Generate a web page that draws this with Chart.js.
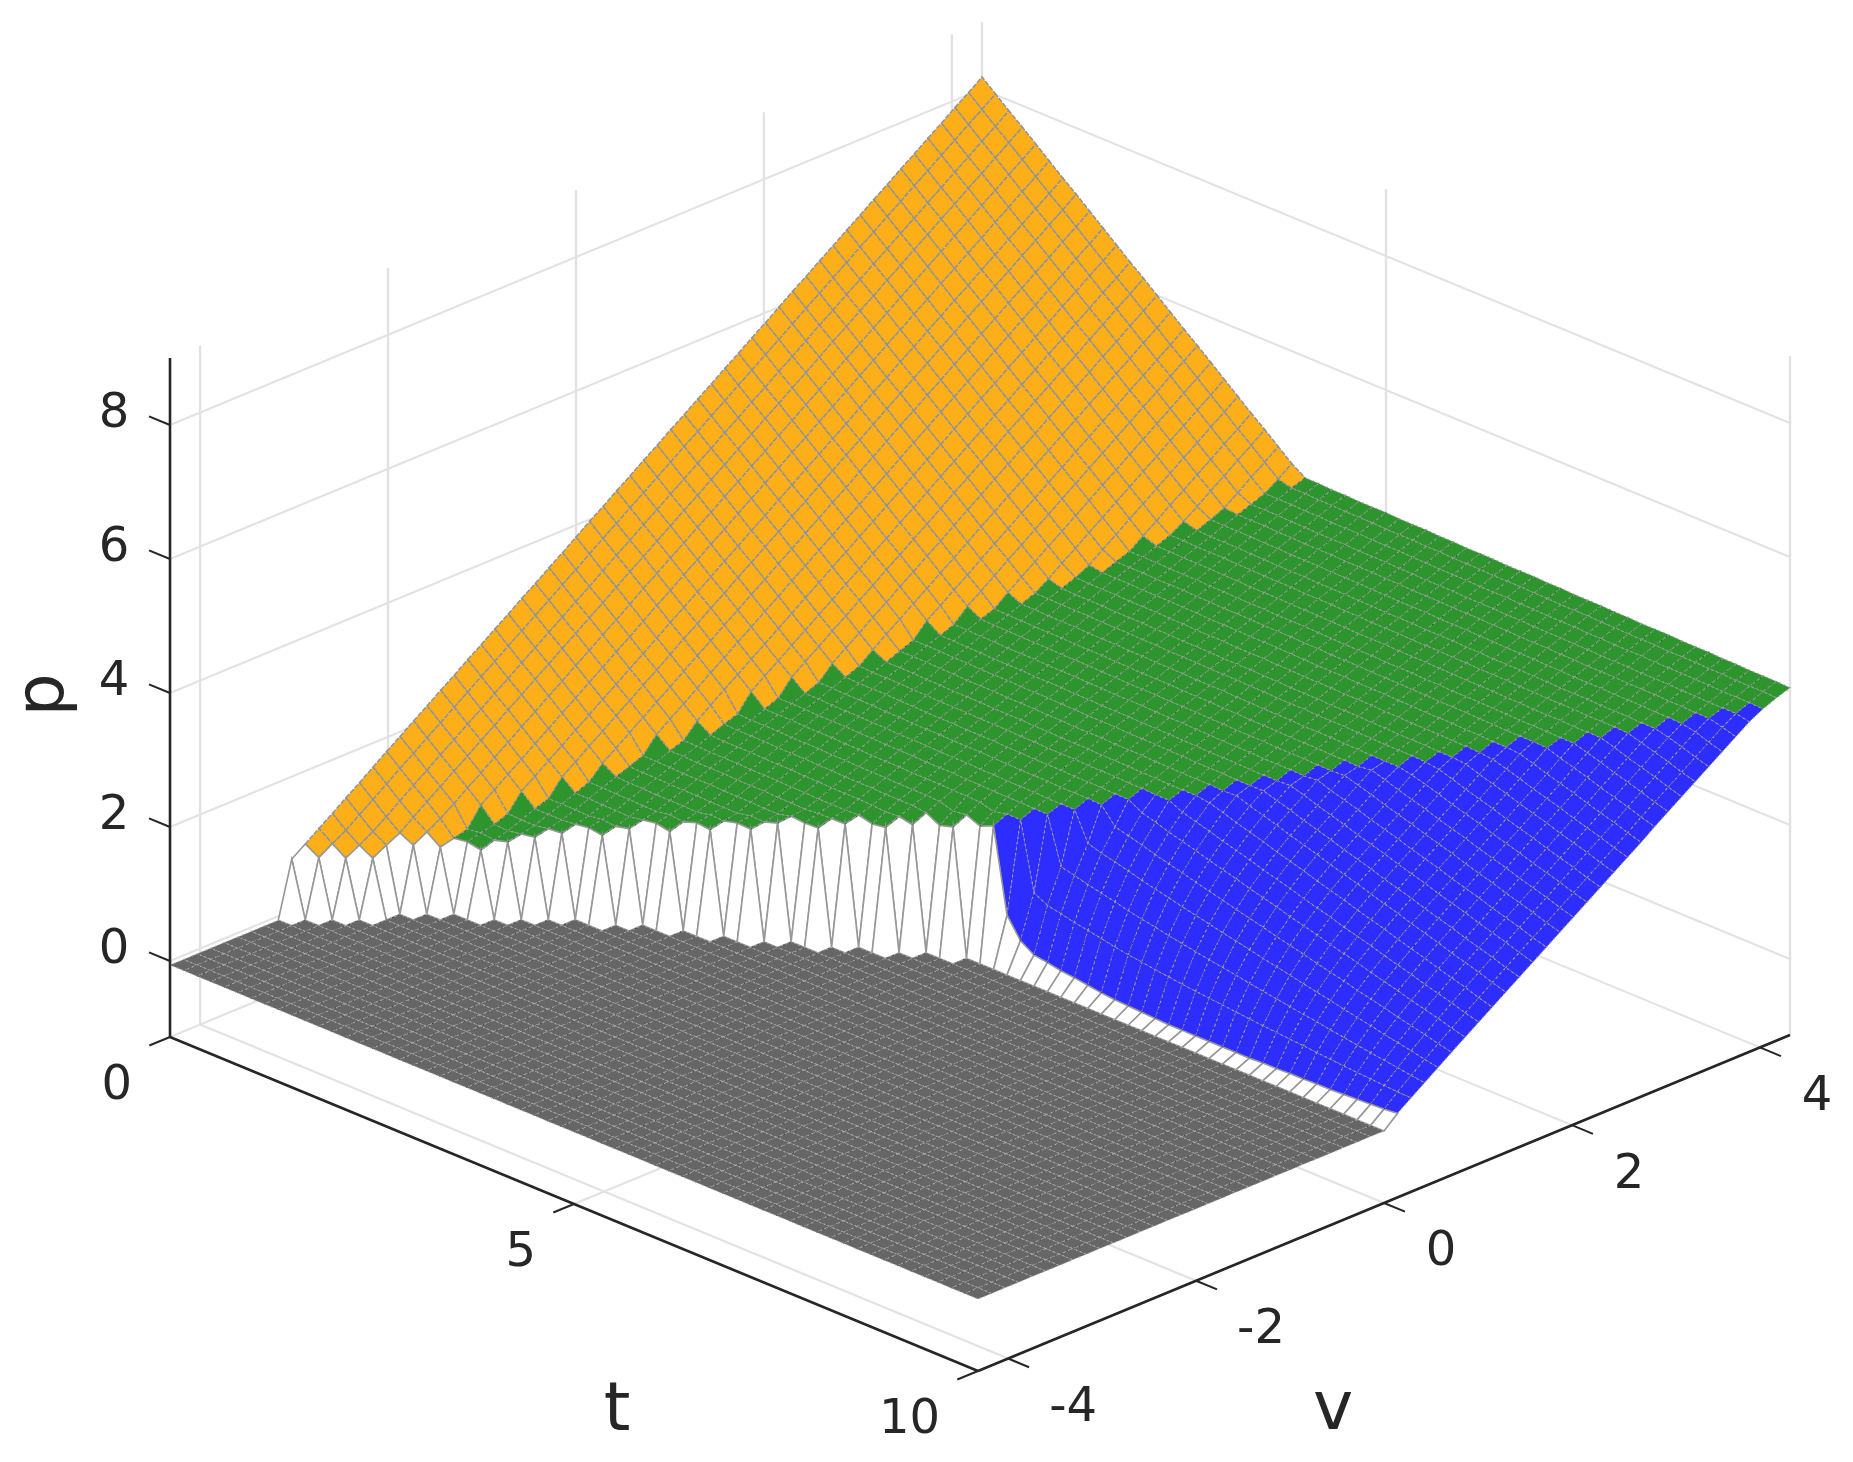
<!DOCTYPE html>
<html>
<head>
<meta charset="utf-8">
<title>p(t, v)</title>
<script src="https://cdn.jsdelivr.net/npm/chart.js@4"></script>
<style>
  html, body { margin: 0; background: #fff; }
  canvas { display: block; }
</style>
</head>
<body>
<canvas id="chart" width="1853" height="1462"></canvas>
<script>
// axis ticks
const pTicks = [0, 2, 4, 6, 8];
const tTicks = [0, 5, 10];
const vTicks = [-4, -2, 0, 2, 4];

// surface grid
const tGrid = [0,0.167,0.333,0.5,0.667,0.833,1,1.167,1.333,1.5,1.667,1.833,2,2.167,2.333,2.5,2.667,2.833,3,3.167,3.333,3.5,3.667,3.833,4,4.167,4.333,4.5,4.667,4.833,5,5.167,5.333,5.5,5.667,5.833,6,6.167,6.333,6.5,6.667,6.833,7,7.167,7.333,7.5,7.667,7.833,8,8.167,8.333,8.5,8.667,8.833,9,9.167,9.333,9.5,9.667,9.833,10];
const vGrid = [-4.32,-4.176,-4.032,-3.888,-3.744,-3.6,-3.456,-3.312,-3.168,-3.024,-2.88,-2.736,-2.592,-2.448,-2.304,-2.16,-2.016,-1.872,-1.728,-1.584,-1.44,-1.296,-1.152,-1.008,-0.864,-0.72,-0.576,-0.432,-0.288,-0.144,0,0.144,0.288,0.432,0.576,0.72,0.864,1.008,1.152,1.296,1.44,1.584,1.728,1.872,2.016,2.16,2.304,2.448,2.592,2.736,2.88,3.024,3.168,3.312,3.456,3.6,3.744,3.888,4.032,4.176,4.32];

// where each t row changes sheet (index into vGrid)
const grayEnd = [8,9,10,11,13,14,15,15,16,17,18,19,19,20,21,21,22,22,23,23,24,25,25,26,27,27,28,29,29,30,30,30,30,30,30,30,30,30,30,30,30,30,30,30,30,30,30,30,30,30,30,30,30,30,30,30,30,30,30,30,30];
const orangeStart = [9,10,11,12,14,18,20,22,24,27,29,32,34,36,38,41,43,45,47,49,52,54,56,59,61];
const orangeLowEnd = [0,0,0,0,0,15];
const blueEnd = [0,0,0,0,0,0,0,0,0,0,0,0,0,0,0,0,0,0,0,0,0,0,0,0,0,0,0,0,0,0,0,32,33,34,35,36,37,37,38,39,40,41,42,43,44,45,45,46,47,48,49,50,50,51,52,53,54,55,56,57,58];

const grayLevel = -0.06;

// orange sheet, read along the t = 0 edge and down the top right edge
const orangeByV = [-0.54,-0.39,-0.25,-0.10,0.04,0.19,0.33,0.48,0.62,0.77,0.91,1.06,1.20,1.35,1.49,1.64,1.79,1.93,2.08,2.22,2.37,2.51,2.66,2.80,2.95,3.09,3.24,3.38,3.53,3.67,3.82,3.97,4.11,4.26,4.40,4.55,4.69,4.84,4.98,5.13,5.27,5.42,5.56,5.71,5.85,6.00,6.15,6.29,6.44,6.58,6.73,6.87,7.02,7.16,7.31,7.45,7.60,7.74,7.89,8.03,8.18];
const orangeDrop = [0,0.17,0.34,0.50,0.67,0.84,1.01,1.17,1.34,1.51,1.68,1.85,2.01,2.18,2.35,2.52,2.68,2.85,3.02,3.19,3.36,3.52,3.69,3.86,4.03];

// green sheet
const greenByV = [-0.33,-0.25,-0.18,-0.10,-0.02,0.05,0.13,0.21,0.29,0.36,0.44,0.52,0.59,0.67,0.75,0.82,0.90,0.98,1.05,1.13,1.21,1.28,1.36,1.44,1.52,1.59,1.67,1.75,1.82,1.90,1.98,2.05,2.13,2.21,2.28,2.36,2.44,2.52,2.59,2.67,2.75,2.82,2.90,2.98,3.05,3.13,3.21,3.28,3.36,3.44,3.52,3.59,3.67,3.75,3.82,3.90,3.98,4.05,4.13,4.21,4.28];
const greenDrop = [0,0,0.01,0.01,0.02,0.02,0.02,0.03,0.03,0.03,0.04,0.04,0.05,0.05,0.05,0.06,0.06,0.06,0.07,0.07,0.08,0.08,0.08,0.09,0.09,0.09,0.10,0.10,0.11,0.11,0.11,0.12,0.12,0.12,0.13,0.13,0.14,0.14,0.14,0.15,0.15,0.15,0.16,0.16,0.17,0.17,0.17,0.18,0.18,0.19,0.19,0.19,0.20,0.20,0.20,0.21,0.21,0.22,0.22,0.22,0.23];

// blue sheet, v >= 0 and t >= 5 only
const blueByV = [0,0.14,0.28,0.42,0.56,0.70,0.84,0.98,1.12,1.26,1.40,1.54,1.68,1.82,1.96,2.10,2.24,2.38,2.52,2.66,2.81,2.95,3.09,3.23,3.37,3.51,3.65,3.79,3.93,4.07,4.21];
const blueRise = [1.90,1.84,1.77,1.71,1.65,1.58,1.52,1.46,1.39,1.33,1.27,1.20,1.14,1.08,1.01,0.95,0.89,0.82,0.76,0.70,0.63,0.57,0.51,0.44,0.38,0.32,0.25,0.19,0.13,0.06,0];
const blueFrontP = [1.86,0.67,0.37,0.24,0.21,0.17,0.15,0.12,0.09,0.07,0.06,0.05,0.04,0.03,0.03,0.03,0.03,0.03,0.03,0.03,0.04,0.04,0.05,0.05,0.06,0.06,0.07,0.08,0.09,0.10,0.12];
const blueFrontFade = [1,0.68,0.46,0.3,0.19,0.11,0.06,0.02];

// the upper lip of the jump above the gray floor, t <= 5
const lipLift = [0,0.05,0.06,0.08,0.07,0.06,0.06,0.03,0.07,0.07,0.06,0.06,0.04,0.07,0.07,0.04,0.09,0.07,0.10,0.09,0.12,0.04,0.05,0.04,-0.03,0,-0.03,-0.12,-0.05,-0.11,-0.02];
const lipFade = [1,0.5];

const GRAY = 0, BLUE = 1, GREEN = 2, ORANGE = 3;
const faceColors = ["#666666", "#2d2dff", "#2e952e", "#fdaf19"];
const meshStyles = [
  { color: "rgba(175,175,175,0.9)", dash: [1.5, 3], width: 1.1 },
  { color: "rgba(165,165,130,0.95)", dash: [2, 3.5], width: 1.1 },
  { color: "rgba(155,155,155,0.95)", dash: [2, 3], width: 1.2 },
  { color: "#8e92a0", dash: [5, 1.5], width: 1.5 }
];
const rowLineColors = ["rgba(20,20,20,0.6)", "rgba(20,20,130,0.8)", "rgba(10,60,10,0.7)", null];

function regionOf(i, j) {
  if (i <= grayEnd[j]) return GRAY;
  if (j < orangeStart.length && i >= orangeStart[j]) return ORANGE;
  if (j < orangeLowEnd.length && i <= orangeLowEnd[j]) return ORANGE;
  if (i < blueEnd[j]) return BLUE;
  return GREEN;
}

function heightOf(i, j) {
  const region = regionOf(i, j);
  if (region === GRAY) return grayLevel;
  const k = i - grayEnd[j] - 1;
  if (region === BLUE) {
    let p = blueByV[i - 30] + blueRise[j - 30];
    if (k < blueFrontFade.length) {
      p -= (blueByV[1] + blueRise[j - 30] - blueFrontP[j - 30]) * blueFrontFade[k];
    }
    return p;
  }
  let p = region === ORANGE ? orangeByV[i] - orangeDrop[j] : greenByV[i] - greenDrop[j];
  if (j < lipLift.length && k < lipFade.length) p += lipLift[j] * lipFade[k];
  return p;
}

// the view of the box, page pixels
const W = 1853, H = 1462;
const vMin = -4.32, vMax = 4.32, tMax = 10, pMin = -1.134, pMax = 9;
function project(t, v, p) {
  const a = (v - vMin) / (vMax - vMin), b = t / tMax;
  return { x: 170 + 812 * a + 808 * b, y: 961 + 334 * b - 336 * a - 67 * p };
}
const node = (i, j) => project(tGrid[j], vGrid[i], heightOf(i, j));

const datasets = [];
function addLine(points, color, width, dash) {
  datasets.push({ data: points, showLine: true, fill: false, pointRadius: 0, borderColor: color, borderWidth: width, borderDash: dash || [], tension: 0 });
}

// grid on the floor and the two back walls
const gridColor = "#e2e2e2";
vTicks.forEach(v => {
  addLine([project(0, v, pMin), project(tMax, v, pMin)], gridColor, 2);
  addLine([project(0, v, pMin), project(0, v, pMax)], gridColor, 2.4);
});
tTicks.forEach(t => {
  addLine([project(t, vMin, pMin), project(t, vMax, pMin)], gridColor, 2);
  addLine([project(t, vMax, pMin), project(t, vMax, pMax)], gridColor, 2.4);
});
pTicks.forEach(p => {
  addLine([project(0, vMin, p), project(0, vMax, p), project(tMax, vMax, p)], gridColor, 2);
});

// surface cells, far corner first so the near ones paint over
for (let j = 0; j < tGrid.length - 1; j++) {
  for (let i = vGrid.length - 2; i >= 0; i--) {
    const corners = [[i, j], [i + 1, j], [i + 1, j + 1], [i, j + 1]];
    const regions = corners.map(c => regionOf(c[0], c[1]));
    const grayCount = regions.filter(r => r === GRAY).length;
    let fillColor, mesh;
    if (grayCount > 0 && grayCount < 4) {
      fillColor = "#ffffff";
      mesh = { color: "#979797", dash: [], width: 1.6 };
    } else {
      const r = regions.includes(BLUE) ? BLUE : regions[0];
      fillColor = faceColors[r];
      mesh = meshStyles[r];
    }
    const pts = corners.map(c => node(c[0], c[1]));
    pts.push(pts[0]);
    datasets.push({
      data: pts, showLine: true, fill: "shape", backgroundColor: fillColor,
      pointRadius: 0, tension: 0, borderColor: mesh.color, borderWidth: mesh.width, borderDash: mesh.dash
    });
  }
}

// the darker mesh specks running along v
for (let j = 1; j < tGrid.length - 1; j++) {
  let run = [], runRegion = null;
  for (let i = 0; i < vGrid.length; i++) {
    const r = regionOf(i, j);
    if (r !== runRegion) {
      if (run.length > 1 && rowLineColors[runRegion]) addLine(run, rowLineColors[runRegion], 1, [1.5, 5]);
      run = [];
      runRegion = r;
    }
    run.push(node(i, j));
  }
  if (run.length > 1 && rowLineColors[runRegion]) addLine(run, rowLineColors[runRegion], 1, [1.5, 5]);
}

// front axes and tick marks
const axisColor = "#262626";
addLine([project(0, vMin, pMin), project(0, vMin, pMax)], axisColor, 2.6);
addLine([project(0, vMin, pMin), project(tMax, vMin, pMin)], axisColor, 2.6);
addLine([project(tMax, vMin, pMin), project(tMax, vMax, pMin)], axisColor, 2.6);
pTicks.forEach(p => addLine([project(0, vMin, p), project(-0.26, vMin, p)], axisColor, 2));
tTicks.forEach(t => addLine([project(t, vMin, pMin), project(t, vMin - 0.22, pMin)], axisColor, 2));
vTicks.forEach(v => addLine([project(tMax, v, pMin), project(tMax + 0.26, v, pMin)], axisColor, 2));

// chart.js paints the first dataset last
datasets.reverse();

const axisText = {
  id: "axisText",
  afterDraw(chart) {
    const ctx = chart.ctx, sx = chart.scales.x, sy = chart.scales.y;
    const at = (pt, dx, dy) => [sx.getPixelForValue(pt.x) + dx, sy.getPixelForValue(pt.y) + dy];
    ctx.save();
    ctx.fillStyle = axisColor;
    ctx.textBaseline = "middle";
    ctx.font = '48px "DejaVu Sans"';
    ctx.textAlign = "center";
    pTicks.forEach(p => {
      const [x, y] = at(project(0, vMin, p), -56, -10);
      ctx.fillText(String(p), x, y);
    });
    vTicks.forEach(v => {
      const [x, y] = at(project(tMax, v, pMin), v < 0 ? 65 : 57, 50);
      ctx.fillText(String(v), x, y);
    });
    ctx.textAlign = "right";
    tTicks.forEach(t => {
      const [x, y] = at(project(t, vMin, pMin), -38, 50);
      ctx.fillText(String(t), x, y);
    });
    ctx.font = '68px "DejaVu Sans"';
    ctx.textAlign = "center";
    let pos = at(project(tMax / 2, vMin, pMin), 43, 208);
    ctx.fillText("t", pos[0], pos[1]);
    pos = at(project(tMax, 0, pMin), -51, 208);
    ctx.fillText("v", pos[0], pos[1]);
    ctx.translate(45, 695);
    ctx.rotate(-Math.PI / 2);
    ctx.fillText("p", 0, 0);
    ctx.restore();
  }
};

new Chart(document.getElementById("chart").getContext("2d"), {
  type: "scatter",
  data: { datasets },
  options: {
    responsive: false,
    animation: false,
    events: [],
    layout: { padding: 0 },
    plugins: { legend: { display: false }, tooltip: { enabled: false } },
    scales: {
      x: { type: "linear", min: 0, max: W, display: false },
      y: { type: "linear", min: 0, max: H, reverse: true, display: false }
    }
  },
  plugins: [axisText]
});
</script>
</body>
</html>
